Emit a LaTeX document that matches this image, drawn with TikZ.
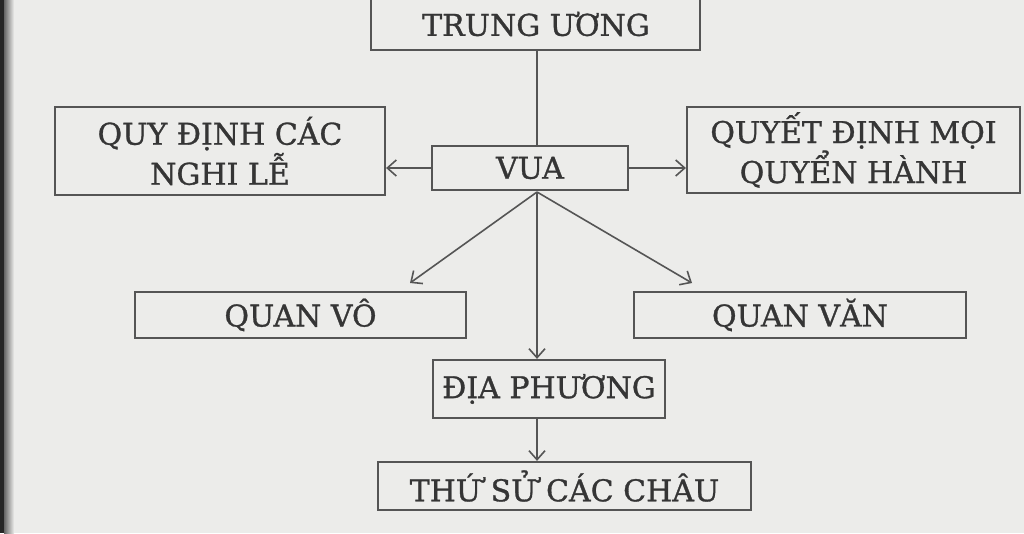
\documentclass[tikz,border=0pt]{standalone}
\usepackage{fontspec}
\setmainfont{DejaVu Serif}[AutoFakeBold=1.0]
\usetikzlibrary{arrows.meta}
\definecolor{bg}{HTML}{ECECEA}
\definecolor{ink}{HTML}{555555}
\definecolor{txt}{HTML}{353535}
\tikzset{
  box/.style={draw=ink, line width=2.2pt, fill=bg, text=txt, inner sep=0pt, align=center,
              font=\fontsize{30}{40}\selectfont\bfseries},
  lbl/.style={text=txt, inner sep=0pt, font=\fontsize{30}{40}\selectfont\bfseries},
  link/.style={draw=ink, line width=1.6pt},
  arr/.style={link, -{Straight Barb[length=9pt,width=16pt,line width=1.6pt]}}
}
\begin{document}
\begin{tikzpicture}[x=1pt,y=-1pt]
\fill[bg] (0,0) rectangle (1024,533);
\shade[left color=black!60, right color=bg] (4,0) rectangle (14,533);
\fill[black!85] (0,0) rectangle (4,533);
\useasboundingbox (0,0) rectangle (1024,533);

\node[box, minimum width=329pt, minimum height=64pt] (tu) at (535.5,18) {};
\node[lbl] (tut) at (536,24) {TRUNG ƯƠNG};
\node[box, minimum width=330pt, minimum height=88pt] (qd) at (220,151) {QUY ĐỊNH CÁC\\NGHI LỄ};
\node[box, minimum width=196pt, minimum height=44pt] (vua) at (530,168) {VUA};
\node[box, minimum width=333pt, minimum height=86pt] (qq) at (853.5,150) {QUYẾT ĐỊNH MỌI\\QUYỂN HÀNH};
\node[box, minimum width=331pt, minimum height=46pt] (qvo) at (300.5,315) {QUAN VÔ};
\node[box, minimum width=332pt, minimum height=46pt] (qvan) at (800,315) {QUAN VĂN};
\node[box, minimum width=232pt, minimum height=58pt] (dp) at (549,389) {ĐỊA PHƯƠNG};
\node[box, minimum width=373pt, minimum height=48pt] (ts) at (564.5,486) {THỨ SỬ CÁC CHÂU};

\coordinate (src) at (537,192);
\coordinate (lt) at (410,283);
\coordinate (rt) at (692,283);

\draw[link] (tu.south -| src) -- (vua.north -| src);
\draw[arr] (vua.west) -- (qd.east |- vua.west);
\draw[arr] (vua.east) -- (qq.west |- vua.east);
\draw[arr] (src) -- (lt);
\draw[arr] (src) -- (rt);
\draw[arr] (src) -- (dp.north -| src);
\draw[arr] (dp.south -| src) -- (ts.north -| src);
\end{tikzpicture}
\end{document}
